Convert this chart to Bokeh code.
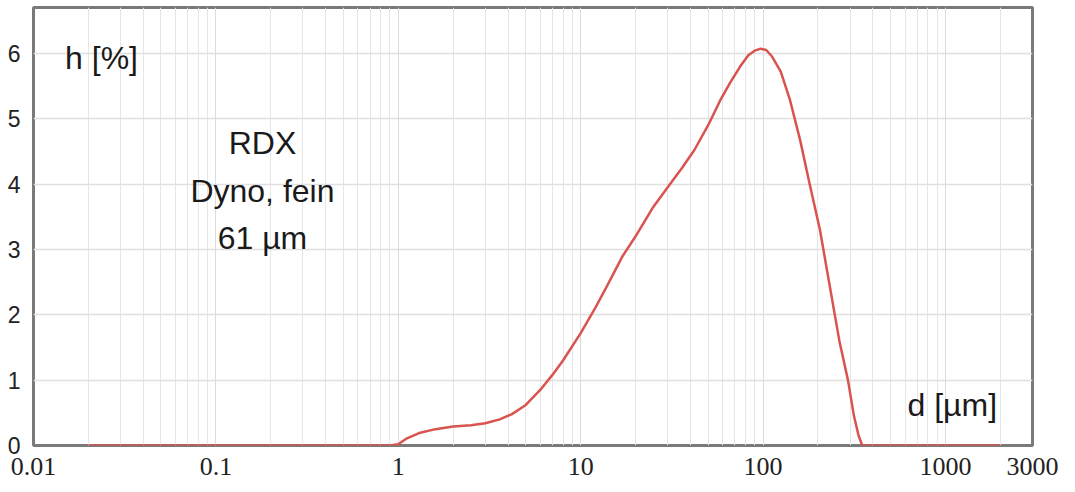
from bokeh.plotting import figure
from bokeh.models import FixedTicker, Range1d, Label, CustomJSTickFormatter
from bokeh.embed import file_html
from bokeh.resources import INLINE

# particle size d [µm] and frequency h [%]
d_um = [0.02, 0.05, 0.1, 0.3, 0.6, 0.9, 1.0, 1.1, 1.3, 1.6, 2.0, 2.5, 3.0, 3.6, 4.2,
        5.0, 6.0, 7.0, 8.0, 10, 12, 14, 17, 20, 25, 30, 36, 42, 50, 58, 66, 75, 83,
        90, 97, 104, 112, 125, 140, 160, 180, 205, 230, 262, 292, 315, 334, 350,
        380, 500, 1000, 2000]
h_pct = [0, 0, 0, 0, 0, 0, 0.02, 0.1, 0.19, 0.25, 0.29, 0.31, 0.34, 0.4, 0.48,
         0.62, 0.85, 1.08, 1.3, 1.72, 2.1, 2.45, 2.9, 3.2, 3.65, 3.95, 4.25, 4.52,
         4.9, 5.27, 5.55, 5.8, 5.97, 6.04, 6.07, 6.05, 5.95, 5.72, 5.3, 4.66, 4.0,
         3.3, 2.5, 1.6, 1.0, 0.45, 0.15, 0.0, 0, 0, 0, 0]

x_major = [0.01, 0.1, 1, 10, 100, 1000, 3000]
x_minor = [m * 10.0 ** e for e in range(-2, 4) for m in range(2, 10) if m * 10.0 ** e < 3000]
y_major = [0, 1, 2, 3, 4, 5, 6]

p = figure(width=1075, height=492, x_axis_type="log",
           x_range=Range1d(0.01, 3000), y_range=Range1d(0, 6.7),
           output_backend="svg", toolbar_location=None,
           min_border_left=33, min_border_right=43, min_border_top=7, min_border_bottom=47)

p.background_fill_color = "white"
p.border_fill_color = "white"
p.outline_line_color = "#7a7a7a"
p.outline_line_width = 3

p.xaxis.ticker = FixedTicker(ticks=x_major, minor_ticks=x_minor)
p.yaxis.ticker = FixedTicker(ticks=y_major)
p.xaxis.formatter = CustomJSTickFormatter(code="return tick >= 1 ? tick.toFixed(0) : tick.toString();")

for ax in (p.xaxis, p.yaxis):
    ax.axis_line_color = None
    ax.major_tick_line_color = None
    ax.minor_tick_line_color = None
    ax.major_label_text_color = "#222222"

p.xaxis.major_label_text_font = "Liberation Serif"
p.xaxis.major_label_text_font_size = "26px"
p.xaxis.major_label_standoff = 6
p.yaxis.major_label_text_font = "Liberation Sans"
p.yaxis.major_label_text_font_size = "23px"
p.yaxis.major_label_standoff = 7

p.xgrid.grid_line_color = "#dcdcdc"
p.xgrid.grid_line_width = 1
p.xgrid.minor_grid_line_color = "#e6e6e6"
p.xgrid.minor_grid_line_width = 1
p.ygrid.grid_line_color = "#e0e0e0"
p.ygrid.grid_line_width = 1.5

p.line(d_um, h_pct, line_color="#d9534f", line_width=2.5)

lab_kw = dict(text_font="Liberation Sans", text_font_size="32px", text_color="#1a1a1a",
              text_align="center", text_baseline="middle")
p.add_layout(Label(x=0.0236, y=5.92, text="h [%]", **lab_kw))
p.add_layout(Label(x=0.18, y=4.62, text="RDX", **lab_kw))
p.add_layout(Label(x=0.18, y=3.9, text="Dyno, fein", **lab_kw))
p.add_layout(Label(x=0.18, y=3.17, text="61 µm", **lab_kw))
p.add_layout(Label(x=1090, y=0.62, text="d [µm]", **lab_kw))

open("out.html", "w").write(file_html(p, INLINE))
